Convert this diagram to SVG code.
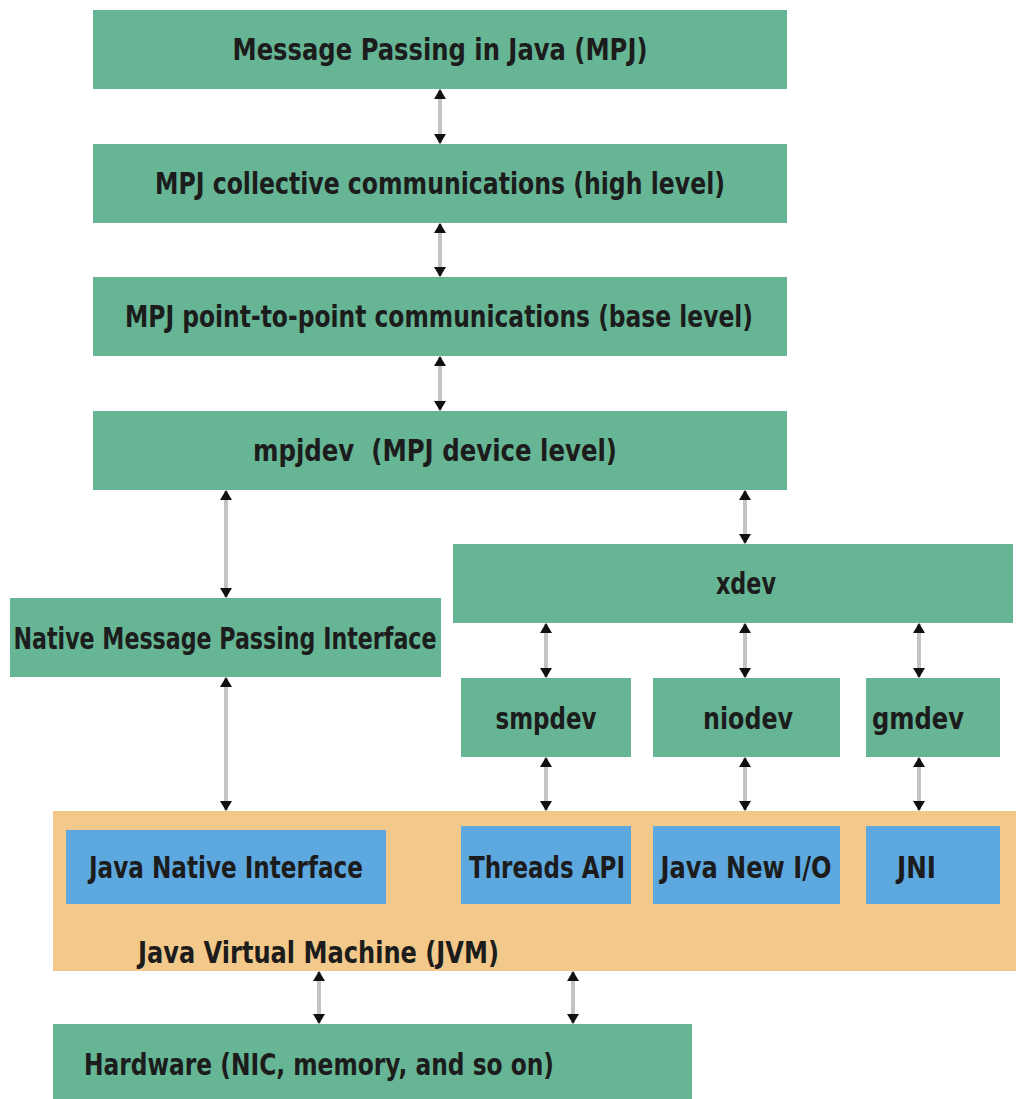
<svg xmlns="http://www.w3.org/2000/svg" width="1016" height="1099" viewBox="0 0 1016 1099">
<defs>
<marker id="ah" viewBox="0 0 10 12" refX="9" refY="6" markerUnits="userSpaceOnUse" markerWidth="10" markerHeight="12" orient="auto-start-reverse">
<path d="M0,0 L10,6 L0,12 Z" fill="#111"/>
</marker>
<style>
.g{fill:#66b595}
.o{fill:#f2c98a}
.b{fill:#5ea8e0}
text{font-family:"DejaVu Sans Condensed","DejaVu Sans","Liberation Sans",sans-serif;font-weight:bold;font-size:30px;fill:#1c1c1c}
.c{text-anchor:middle}
.ln{stroke:#c4c4c4;stroke-width:4;fill:none;marker-start:url(#ah);marker-end:url(#ah)}
</style>
</defs>
<rect width="1016" height="1099" fill="#fff"/>
<g id="jvm"><rect class="o" x="53" y="811" width="963" height="160"/><text x="138" y="963" textLength="361" lengthAdjust="spacingAndGlyphs">Java Virtual Machine (JVM)</text></g>
<g id="mpj"><rect class="g" x="93" y="10" width="694" height="79"/><text class="c" x="440" y="60" textLength="415" lengthAdjust="spacingAndGlyphs">Message Passing in Java (MPJ)</text></g>
<g id="collective"><rect class="g" x="93" y="144" width="694" height="79"/><text class="c" x="440" y="194" textLength="570" lengthAdjust="spacingAndGlyphs">MPJ collective communications (high level)</text></g>
<g id="p2p"><rect class="g" x="93" y="277" width="694" height="79"/><text class="c" x="439" y="327" textLength="628" lengthAdjust="spacingAndGlyphs">MPJ point-to-point communications (base level)</text></g>
<g id="mpjdev"><rect class="g" x="93" y="411" width="694" height="79"/><text x="253" y="461" textLength="364" lengthAdjust="spacingAndGlyphs" xml:space="preserve">mpjdev  (MPJ device level)</text></g>
<g id="xdev"><rect class="g" x="453" y="544" width="560" height="79"/><text class="c" x="746" y="594" textLength="60" lengthAdjust="spacingAndGlyphs">xdev</text></g>
<g id="native"><rect class="g" x="10" y="598" width="431" height="79"/><text class="c" x="225" y="649" textLength="423" lengthAdjust="spacingAndGlyphs">Native Message Passing Interface</text></g>
<g id="smpdev"><rect class="g" x="461" y="678" width="170" height="79"/><text class="c" x="546" y="729" textLength="101" lengthAdjust="spacingAndGlyphs">smpdev</text></g>
<g id="niodev"><rect class="g" x="653" y="678" width="187" height="79"/><text class="c" x="748" y="729" textLength="90" lengthAdjust="spacingAndGlyphs">niodev</text></g>
<g id="gmdev"><rect class="g" x="866" y="678" width="134" height="79"/><text class="c" x="918" y="729" textLength="92" lengthAdjust="spacingAndGlyphs">gmdev</text></g>
<g id="jni-main"><rect class="b" x="66" y="830" width="320" height="74"/><text x="89" y="878" textLength="274" lengthAdjust="spacingAndGlyphs">Java Native Interface</text></g>
<g id="threads"><rect class="b" x="461" y="826" width="170" height="78"/><text class="c" x="547" y="878" textLength="156" lengthAdjust="spacingAndGlyphs">Threads API</text></g>
<g id="nio"><rect class="b" x="653" y="826" width="187" height="78"/><text class="c" x="746" y="878" textLength="171" lengthAdjust="spacingAndGlyphs">Java New I/O</text></g>
<g id="jni"><rect class="b" x="866" y="826" width="134" height="78"/><text x="897" y="878" textLength="39" lengthAdjust="spacingAndGlyphs">JNI</text></g>
<g id="hardware"><rect class="g" x="53" y="1024" width="639" height="75"/><text x="84" y="1075" textLength="470" lengthAdjust="spacingAndGlyphs">Hardware (NIC, memory, and so on)</text></g>
<g id="connectors">
<line class="ln" x1="440" y1="90" x2="440" y2="143"/>
<line class="ln" x1="440" y1="224" x2="440" y2="276"/>
<line class="ln" x1="440" y1="357" x2="440" y2="410"/>
<line class="ln" x1="226" y1="491" x2="226" y2="597"/>
<line class="ln" x1="745" y1="491" x2="745" y2="543"/>
<line class="ln" x1="226" y1="678" x2="226" y2="810"/>
<line class="ln" x1="546" y1="624" x2="546" y2="677"/>
<line class="ln" x1="745" y1="624" x2="745" y2="677"/>
<line class="ln" x1="919" y1="624" x2="919" y2="677"/>
<line class="ln" x1="546" y1="758" x2="546" y2="810"/>
<line class="ln" x1="745" y1="758" x2="745" y2="810"/>
<line class="ln" x1="919" y1="758" x2="919" y2="810"/>
<line class="ln" x1="319" y1="972" x2="319" y2="1023"/>
<line class="ln" x1="573" y1="972" x2="573" y2="1023"/>
</g>
</svg>
